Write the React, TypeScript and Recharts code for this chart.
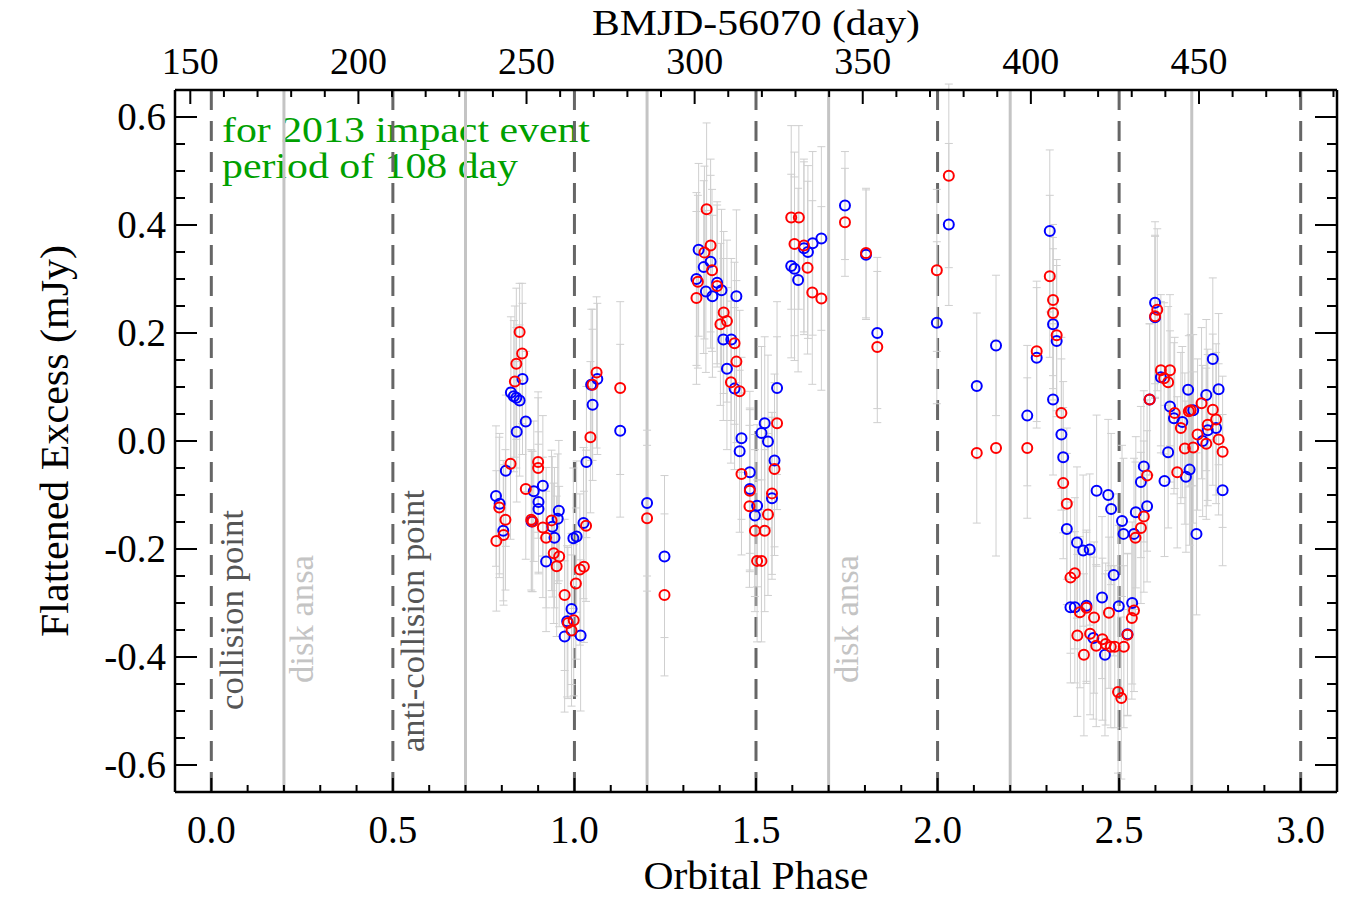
import React from "react"
import { ScatterChart, Scatter, XAxis, YAxis, ErrorBar, ReferenceLine } from "recharts"

// [orbital phase, flattened excess (mJy), error]
const blueData: number[][] = [
    [0.784, -0.102, 0.13], [0.794, -0.116, 0.13], [0.804, -0.166, 0.13], [0.811, -0.055, 0.14],
    [0.825, 0.090, 0.14], [0.833, 0.083, 0.14], [0.840, 0.080, 0.13], [0.841, 0.017, 0.13],
    [0.849, 0.075, 0.14], [0.857, 0.115, 0.14], [0.866, 0.036, 0.13], [0.882, -0.149, 0.13],
    [0.888, -0.093, 0.13], [0.901, -0.113, 0.13], [0.901, -0.126, 0.12], [0.913, -0.083, 0.13],
    [0.922, -0.223, 0.13], [0.939, -0.159, 0.13], [0.945, -0.179, 0.13], [0.954, -0.144, 0.12],
    [0.957, -0.129, 0.13], [0.973, -0.362, 0.14], [0.980, -0.334, 0.14], [0.992, -0.311, 0.14],
    [0.997, -0.180, 0.13], [1.006, -0.177, 0.14], [1.017, -0.360, 0.14], [1.025, -0.152, 0.14],
    [1.033, -0.039, 0.14], [1.046, 0.104, 0.14], [1.050, 0.067, 0.14], [1.063, 0.115, 0.14],
    [1.126, 0.019, 0.16], [1.200, -0.115, 0.135], [1.248, -0.214, 0.15],
    [1.336, 0.300, 0.16], [1.342, 0.354, 0.16], [1.356, 0.322, 0.16], [1.362, 0.277, 0.15],
    [1.375, 0.332, 0.16], [1.380, 0.268, 0.15], [1.393, 0.293, 0.15], [1.405, 0.279, 0.15],
    [1.410, 0.188, 0.15], [1.420, 0.134, 0.15], [1.432, 0.188, 0.15], [1.441, 0.097, 0.15],
    [1.446, 0.268, 0.16], [1.455, -0.019, 0.15], [1.460, 0.005, 0.15], [1.483, -0.058, 0.15],
    [1.483, -0.089, 0.15], [1.497, -0.138, 0.15], [1.503, -0.120, 0.15], [1.515, 0.015, 0.16],
    [1.524, 0.033, 0.16], [1.533, -0.001, 0.16], [1.544, -0.106, 0.15], [1.551, -0.036, 0.16],
    [1.558, 0.098, 0.16], [1.597, 0.324, 0.17], [1.606, 0.319, 0.17], [1.616, 0.298, 0.17],
    [1.632, 0.357, 0.16], [1.643, 0.350, 0.16], [1.656, 0.366, 0.17], [1.680, 0.375, 0.17],
    [1.745, 0.436, 0.1], [1.803, 0.345, 0.12], [1.834, 0.200, 0.14], [1.998, 0.219, 0.15],
    [2.031, 0.401, 0.15], [2.108, 0.102, 0.135], [2.161, 0.177, 0.13], [2.247, 0.047, 0.13],
    [2.273, 0.154, 0.13], [2.309, 0.389, 0.15], [2.318, 0.216, 0.14], [2.318, 0.077, 0.14],
    [2.328, 0.185, 0.14], [2.341, 0.012, 0.14], [2.346, -0.030, 0.14], [2.356, -0.163, 0.14],
    [2.366, -0.308, 0.14], [2.378, -0.308, 0.14], [2.384, -0.188, 0.14], [2.401, -0.203, 0.14],
    [2.410, -0.305, 0.14], [2.419, -0.201, 0.14], [2.429, -0.365, 0.15], [2.438, -0.092, 0.14],
    [2.453, -0.290, 0.15], [2.461, -0.396, 0.15], [2.470, -0.100, 0.14], [2.478, -0.126, 0.14],
    [2.485, -0.248, 0.15], [2.499, -0.306, 0.15], [2.508, -0.148, 0.14], [2.512, -0.172, 0.14],
    [2.523, -0.358, 0.15], [2.536, -0.300, 0.15], [2.541, -0.172, 0.14], [2.546, -0.132, 0.14],
    [2.560, -0.076, 0.14], [2.568, -0.047, 0.14], [2.577, -0.121, 0.14], [2.584, 0.077, 0.14],
    [2.599, 0.256, 0.15], [2.599, 0.229, 0.15], [2.615, 0.118, 0.14], [2.625, -0.074, 0.14],
    [2.635, -0.021, 0.14], [2.640, 0.064, 0.14], [2.651, 0.042, 0.14], [2.674, 0.035, 0.14],
    [2.684, -0.066, 0.14], [2.690, 0.095, 0.14], [2.694, -0.053, 0.14], [2.704, 0.057, 0.14],
    [2.713, -0.172, 0.15], [2.730, 0.000, 0.14], [2.740, 0.085, 0.14], [2.744, 0.020, 0.14],
    [2.758, 0.152, 0.15], [2.767, 0.024, 0.14], [2.774, 0.096, 0.14], [2.785, -0.091, 0.14],
]

const redData: number[][] = [
    [0.785, -0.185, 0.13], [0.793, -0.123, 0.13], [0.805, -0.174, 0.13], [0.810, -0.146, 0.13],
    [0.824, -0.042, 0.14], [0.836, 0.110, 0.14], [0.840, 0.143, 0.14], [0.849, 0.202, 0.09],
    [0.856, 0.162, 0.13], [0.866, -0.089, 0.13], [0.881, -0.146, 0.13], [0.885, -0.149, 0.13],
    [0.900, -0.039, 0.13], [0.900, -0.050, 0.13], [0.913, -0.160, 0.13], [0.922, -0.179, 0.13],
    [0.937, -0.147, 0.13], [0.943, -0.208, 0.13], [0.951, -0.232, 0.13], [0.958, -0.214, 0.13],
    [0.973, -0.285, 0.14], [0.982, -0.337, 0.14], [0.992, -0.351, 0.14], [0.998, -0.332, 0.14],
    [1.004, -0.264, 0.14], [1.015, -0.238, 0.14], [1.026, -0.233, 0.14], [1.032, -0.157, 0.14],
    [1.044, 0.007, 0.14], [1.050, 0.104, 0.14], [1.061, 0.127, 0.14],
    [1.126, 0.098, 0.16], [1.200, -0.143, 0.135], [1.248, -0.285, 0.15],
    [1.336, 0.265, 0.16], [1.340, 0.295, 0.16], [1.358, 0.349, 0.16], [1.364, 0.429, 0.16],
    [1.375, 0.362, 0.16], [1.379, 0.316, 0.15], [1.393, 0.287, 0.15], [1.402, 0.216, 0.15],
    [1.411, 0.238, 0.15], [1.420, 0.222, 0.15], [1.431, 0.109, 0.15], [1.441, 0.181, 0.15],
    [1.446, 0.147, 0.15], [1.455, 0.092, 0.15], [1.460, -0.061, 0.15], [1.482, -0.121, 0.15],
    [1.483, -0.092, 0.15], [1.497, -0.166, 0.15], [1.503, -0.222, 0.15], [1.515, -0.222, 0.15],
    [1.524, -0.166, 0.15], [1.533, -0.136, 0.15], [1.544, -0.097, 0.15], [1.551, -0.052, 0.16],
    [1.558, 0.033, 0.16], [1.597, 0.414, 0.17], [1.606, 0.365, 0.17], [1.618, 0.414, 0.17],
    [1.632, 0.362, 0.16], [1.642, 0.321, 0.16], [1.655, 0.275, 0.17], [1.680, 0.264, 0.17],
    [1.745, 0.405, 0.1], [1.803, 0.348, 0.12], [1.834, 0.174, 0.14], [1.998, 0.316, 0.15],
    [2.031, 0.491, 0.17], [2.108, -0.022, 0.13], [2.161, -0.013, 0.2], [2.247, -0.013, 0.13],
    [2.273, 0.166, 0.13], [2.309, 0.305, 0.15], [2.318, 0.261, 0.14], [2.318, 0.237, 0.14],
    [2.328, 0.196, 0.14], [2.341, 0.052, 0.14], [2.346, -0.078, 0.14], [2.356, -0.116, 0.14],
    [2.366, -0.253, 0.14], [2.378, -0.245, 0.14], [2.385, -0.360, 0.15], [2.392, -0.317, 0.14],
    [2.403, -0.396, 0.15], [2.410, -0.309, 0.14], [2.420, -0.357, 0.15], [2.431, -0.327, 0.14],
    [2.437, -0.379, 0.15], [2.454, -0.367, 0.15], [2.463, -0.376, 0.15], [2.472, -0.318, 0.14],
    [2.477, -0.381, 0.15], [2.488, -0.381, 0.15], [2.497, -0.465, 0.15], [2.506, -0.476, 0.15],
    [2.513, -0.381, 0.15], [2.523, -0.359, 0.15], [2.535, -0.328, 0.15], [2.541, -0.314, 0.15],
    [2.545, -0.179, 0.14], [2.560, -0.161, 0.14], [2.568, -0.140, 0.14], [2.577, -0.064, 0.14],
    [2.584, 0.077, 0.14], [2.599, 0.231, 0.15], [2.605, 0.243, 0.15], [2.615, 0.131, 0.14],
    [2.624, 0.116, 0.14], [2.635, 0.109, 0.14], [2.640, 0.131, 0.14], [2.653, 0.052, 0.14],
    [2.660, -0.058, 0.14], [2.670, 0.024, 0.14], [2.681, -0.014, 0.14], [2.692, 0.055, 0.14],
    [2.697, 0.057, 0.14], [2.704, -0.012, 0.14], [2.716, 0.012, 0.14], [2.727, 0.070, 0.14],
    [2.740, -0.005, 0.14], [2.744, 0.030, 0.14], [2.758, 0.058, 0.14], [2.767, 0.040, 0.14],
    [2.774, 0.003, 0.14], [2.785, -0.020, 0.14],
]

const phaseTicks = [
    0, 0.1, 0.2, 0.3, 0.4, 0.5, 0.6, 0.7, 0.8, 0.9, 1.0, 1.1, 1.2, 1.3, 1.4, 1.5,
    1.6, 1.7, 1.8, 1.9, 2.0, 2.1, 2.2, 2.3, 2.4, 2.5, 2.6, 2.7, 2.8, 2.9, 3.0,
]
const dayTicks = [
    150, 160, 170, 180, 190, 200, 210, 220, 230, 240, 250, 260, 270, 280, 290, 300,
    310, 320, 330, 340, 350, 360, 370, 380, 390, 400, 410, 420, 430, 440, 450, 460, 470, 480, 490,
]
const fluxTicks = [
    -0.6, -0.55, -0.5, -0.45, -0.4, -0.35, -0.3, -0.25, -0.2, -0.15, -0.1, -0.05, 0,
    0.05, 0.1, 0.15, 0.2, 0.25, 0.3, 0.35, 0.4, 0.45, 0.5, 0.55, 0.6,
]
const collisionPhases = [0, 0.5, 1.0, 1.5, 2.0, 2.5, 3.0]
const ansaPhases = [0.2, 0.7, 1.2, 1.7, 2.2, 2.7]

const W = 1350
const H = 900
const LEFT = 175
const RIGHT = 1337
const TOP = 90
const BOTTOM = 792
const AX = 30 // space given to each axis; the margins make up the rest
const FONT = "'Liberation Serif', 'Times New Roman', serif"

const isMultiple = (v: number, step: number) => Math.abs(v / step - Math.round(v / step)) < 1e-6

const toPoints = (rows: number[][]) => rows.map(([x, y, err]) => ({ x, y, err }))

const BottomTick = (p: any) => {
    const v = p.payload.value
    const major = isMultiple(v, 0.5)
    return (
        <g>
            <line x1={p.x} x2={p.x} y1={BOTTOM} y2={BOTTOM - (major ? 14 : 7)} stroke="#000" strokeWidth={2} />
            {major && (
                <text x={p.x} y={843} textAnchor="middle" fontSize={39} fontFamily={FONT} fill="#000">
                    {v.toFixed(1)}
                </text>
            )}
        </g>
    )
}

const TopTick = (p: any) => {
    const v = p.payload.value
    const major = isMultiple(v, 50)
    return (
        <g>
            <line x1={p.x} x2={p.x} y1={TOP} y2={TOP + (major ? 14 : 7)} stroke="#000" strokeWidth={2} />
            {major && (
                <text x={p.x} y={74} textAnchor="middle" fontSize={38} fontFamily={FONT} fill="#000">
                    {v}
                </text>
            )}
        </g>
    )
}

const LeftTick = (p: any) => {
    const v = p.payload.value
    const major = isMultiple(v, 0.2)
    return (
        <g>
            <line x1={LEFT} x2={LEFT + (major ? 22 : 10)} y1={p.y} y2={p.y} stroke="#000" strokeWidth={2} />
            {major && (
                <text x={166} y={p.y + 13} textAnchor="end" fontSize={39} fontFamily={FONT} fill="#000">
                    {v.toFixed(1)}
                </text>
            )}
        </g>
    )
}

const RightTick = (p: any) => {
    const major = isMultiple(p.payload.value, 0.2)
    return <line x1={RIGHT} x2={RIGHT - (major ? 22 : 10)} y1={p.y} y2={p.y} stroke="#000" strokeWidth={2} />
}

const openCircle = (color: string) => (p: any) => (
    <circle cx={p.cx} cy={p.cy} r={5} fill="none" stroke={color} strokeWidth={2} />
)

const noShape = () => <g />

export default function App() {
    const blue = toPoints(blueData)
    const red = toPoints(redData)
    const frame = { stroke: "#000", strokeWidth: 2.5 }
    return (
        <div style={{ position: "absolute", left: 0, top: 0, background: "#fff" }}>
            <ScatterChart
                width={W}
                height={H}
                margin={{ top: TOP - AX, right: W - RIGHT - 10, bottom: H - BOTTOM - AX, left: LEFT - AX }}
            >
                <XAxis
                    xAxisId={0}
                    type="number"
                    dataKey="x"
                    domain={[-0.1, 3.1]}
                    ticks={phaseTicks}
                    interval={0}
                    height={AX}
                    tickLine={false}
                    tick={BottomTick}
                    axisLine={frame}
                    allowDataOverflow
                />
                <XAxis
                    xAxisId="top"
                    orientation="top"
                    type="number"
                    dataKey="x"
                    domain={[145.45, 491.05]}
                    ticks={dayTicks}
                    interval={0}
                    height={AX}
                    tickLine={false}
                    tick={TopTick}
                    axisLine={frame}
                    allowDataOverflow
                />
                <YAxis
                    yAxisId={0}
                    type="number"
                    dataKey="y"
                    domain={[-0.65, 0.65]}
                    ticks={fluxTicks}
                    interval={0}
                    width={AX}
                    tickLine={false}
                    tick={LeftTick}
                    axisLine={frame}
                    allowDataOverflow
                />
                <YAxis
                    yAxisId="right"
                    orientation="right"
                    type="number"
                    dataKey="y"
                    domain={[-0.65, 0.65]}
                    ticks={fluxTicks}
                    interval={0}
                    width={10}
                    tickLine={false}
                    tick={RightTick}
                    axisLine={frame}
                    allowDataOverflow
                />

                {ansaPhases.map(p => (
                    <ReferenceLine key={"a" + p} x={p} stroke="#c4c4c4" strokeWidth={3} />
                ))}
                {collisionPhases.map(p => (
                    <ReferenceLine key={"c" + p} x={p} stroke="#666" strokeWidth={3} strokeDasharray="20 11" />
                ))}

                <Scatter data={blue} shape={noShape} isAnimationActive={false}>
                    <ErrorBar dataKey="err" direction="y" width={4} stroke="#cfcfcf" strokeWidth={1} isAnimationActive={false} />
                </Scatter>
                <Scatter data={red} shape={noShape} isAnimationActive={false}>
                    <ErrorBar dataKey="err" direction="y" width={4} stroke="#cfcfcf" strokeWidth={1} isAnimationActive={false} />
                </Scatter>
                <Scatter data={blue} shape={openCircle("#0000ff")} isAnimationActive={false} />
                <Scatter data={red} shape={openCircle("#ff0000")} isAnimationActive={false} />

                <text x={222} y={142} fontSize={35} fontFamily={FONT} fill="#00a000" textLength={368} lengthAdjust="spacingAndGlyphs">
                    for 2013 impact event
                </text>
                <text x={222} y={178} fontSize={35} fontFamily={FONT} fill="#00a000" textLength={296} lengthAdjust="spacingAndGlyphs">
                    period of 108 day
                </text>

                <text transform="translate(243,710) rotate(-90)" fontSize={33} fontFamily={FONT} fill="#555" textLength={200} lengthAdjust="spacingAndGlyphs">
                    collision point
                </text>
                <text transform="translate(313,683) rotate(-90)" fontSize={33} fontFamily={FONT} fill="#c4c4c4" textLength={128} lengthAdjust="spacingAndGlyphs">
                    disk ansa
                </text>
                <text transform="translate(424,752) rotate(-90)" fontSize={33} fontFamily={FONT} fill="#555" textLength={262} lengthAdjust="spacingAndGlyphs">
                    anti-collision point
                </text>
                <text transform="translate(858,683) rotate(-90)" fontSize={33} fontFamily={FONT} fill="#c4c4c4" textLength={128} lengthAdjust="spacingAndGlyphs">
                    disk ansa
                </text>

                <text x={756} y={889} textAnchor="middle" fontSize={40} fontFamily={FONT} fill="#000" textLength={225} lengthAdjust="spacingAndGlyphs">
                    Orbital Phase
                </text>
                <text x={756} y={35} textAnchor="middle" fontSize={36} fontFamily={FONT} fill="#000" textLength={328} lengthAdjust="spacingAndGlyphs">
                    BMJD-56070 (day)
                </text>
                <text transform="translate(68,441) rotate(-90)" textAnchor="middle" fontSize={40} fontFamily={FONT} fill="#000" textLength={392} lengthAdjust="spacingAndGlyphs">
                    Flattened Excess (mJy)
                </text>
            </ScatterChart>
        </div>
    )
}
